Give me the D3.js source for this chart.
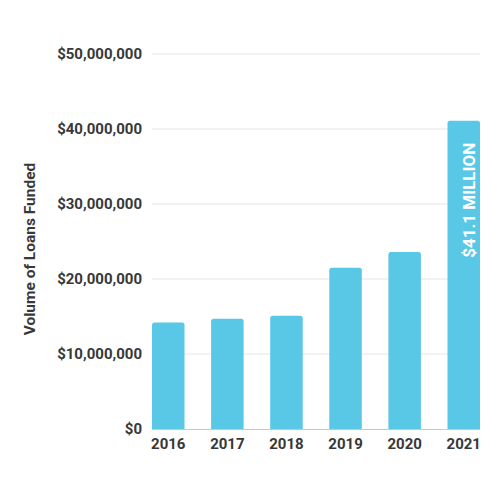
<!DOCTYPE html>
<html lang="en">
<head>
  <meta charset="UTF-8">
  <title>Volume of Loans Funded</title>
  <style>
  body { margin: 0; background: #fff; }
  #chart { display: block; }
  .tick text { font-family: Roboto, "Noto Sans", sans-serif; font-weight: 700; fill: #383838; }
  </style>
</head>
<body>
<svg id="chart"></svg>
<script src="https://d3js.org/d3.v7.min.js"></script>
<script>
// Chart values
const years = ["2016", "2017", "2018", "2019", "2020", "2021"];
const volumes = [14200000, 14700000, 15100000, 21500000, 23600000, 41100000];
const yTicks = [0, 10000000, 20000000, 30000000, 40000000, 50000000];
const yLabel = "Volume of Loans Funded";
const barLabel = "$41.1 MILLION";

const data = years.map((y, i) => ({ year: y, value: volumes[i] }));

const margin = { top: 54, right: 20, bottom: 71, left: 152 };
const width = 500 - margin.left - margin.right;
const height = 500 - margin.top - margin.bottom;

const svg = d3.select("#chart")
  .attr("width", 500)
  .attr("height", 500)
  .append("g")
  .attr("transform", `translate(${margin.left},${margin.top})`);

const x = d3.scaleBand()
  .domain(years)
  .range([0, 328])
  .paddingInner(0.45)
  .paddingOuter(0);

const y = d3.scaleLinear()
  .domain([0, 50000000])
  .range([height, 0]);

// gridlines
svg.append("g")
  .selectAll("line")
  .data(yTicks.slice(1))
  .enter().append("line")
  .attr("x1", 0)
  .attr("x2", 328)
  .attr("y1", d => y(d))
  .attr("y2", d => y(d))
  .attr("stroke", "#e5e5e5")
  .attr("stroke-width", 1);

// y axis (labels only)
const yAxis = svg.append("g")
  .call(d3.axisLeft(y).tickValues(yTicks).tickFormat(d => "$" + d3.format(",")(d)).tickSize(0).tickPadding(10));
yAxis.select(".domain").remove();
yAxis.selectAll("text").style("font-size", "15px");

// bars with rounded tops
const r = 2.5;
svg.selectAll(".bar")
  .data(data)
  .enter().append("path")
  .attr("class", "bar")
  .attr("fill", "#59c8e6")
  .attr("d", d => {
    const x0 = x(d.year), w = x.bandwidth(), y0 = y(d.value), yb = y(0);
    return `M${x0},${yb}V${y0 + r}Q${x0},${y0} ${x0 + r},${y0}H${x0 + w - r}Q${x0 + w},${y0} ${x0 + w},${y0 + r}V${yb}Z`;
  });

// x axis
const xAxis = svg.append("g")
  .attr("transform", `translate(0,${height})`)
  .call(d3.axisBottom(x).tickSize(0).tickPadding(9));
xAxis.select(".domain").attr("stroke", "#c8c8c8").attr("d", "M0,0.5H328");
xAxis.selectAll("text").style("font-size", "15px");

// label inside the last bar
const last = data[data.length - 1];
svg.append("text")
  .attr("transform", `translate(${x(last.year) + x.bandwidth() / 2 + 5},${y(last.value) + 22}) rotate(-90)`)
  .attr("text-anchor", "end")
  .attr("dy", "0.35em")
  .attr("fill", "#fff")
  .style("font-family", "Roboto, sans-serif")
  .style("font-weight", 700)
  .style("font-size", "17px")
  .text(barLabel);

// y axis title
svg.append("text")
  .attr("transform", `translate(${30 - margin.left},${249 - margin.top}) rotate(-90)`)
  .attr("text-anchor", "middle")
  .attr("dy", "0.35em")
  .attr("fill", "#383838")
  .style("font-family", "Roboto, sans-serif")
  .style("font-weight", 700)
  .style("font-size", "15.5px")
  .text(yLabel);
</script>
</body>
</html>
